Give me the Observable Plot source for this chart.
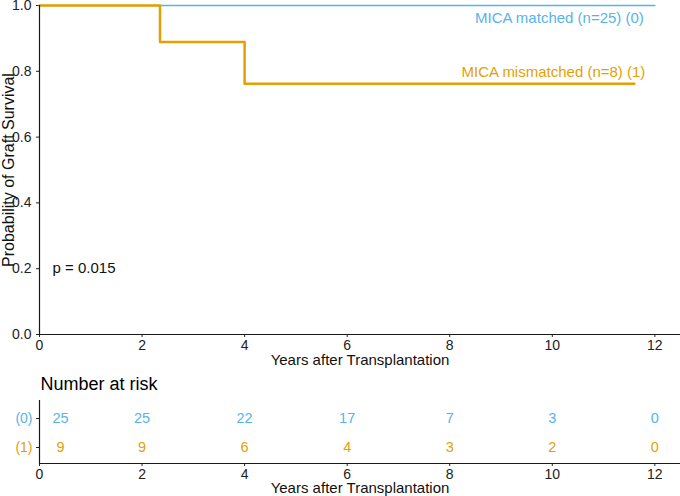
<!DOCTYPE html>
<html><head><meta charset="utf-8">
<script src="https://cdn.jsdelivr.net/npm/d3@7"></script>
<script src="https://cdn.jsdelivr.net/npm/@observablehq/plot@0.6"></script>
<style>
body{margin:0;background:#fff;}
#chart{position:relative;width:680px;height:496px;font-family:"Liberation Sans",Arial,sans-serif;}
#chart svg{display:block;}
</style></head><body><div id="chart"></div>
<script>
const ticksX = [0, 2, 4, 6, 8, 10, 12];
const ticksY = [0, 0.2, 0.4, 0.6, 0.8, 1.0];
const matchedTime = [0, 12];
const matchedSurv = [1, 1];
const mismatchedTime = [0, 2.35, 4.0, 11.6];
const mismatchedSurv = [1, 0.889, 0.762, 0.762];
const groupLabels = ["MICA matched (n=25) (0)", "MICA mismatched (n=8) (1)"];
const groupCodes = ["(0)", "(1)"];
const groupColors = ["#56B4E9", "#E69F00"];
const riskTimes = [0, 2, 4, 6, 8, 10, 12];
const riskMatched = [25, 25, 22, 17, 7, 3, 0];
const riskMismatched = [9, 9, 6, 4, 3, 2, 0];
const pValueText = "p = 0.015";
const xTitle = "Years after Transplantation";
const yTitle = "Probability of Graft Survival";
const riskTitle = "Number at risk";

const font = '"Liberation Sans", Arial, sans-serif';
const axisColor = "#1a1a1a";

const matched = matchedTime.map((t, i) => ({t, s: matchedSurv[i]}));
const mismatched = mismatchedTime.map((t, i) => ({t, s: mismatchedSurv[i]}));

const plot1 = Plot.plot({
  width: 680, height: 370,
  marginLeft: 39, marginRight: 0, marginTop: 5, marginBottom: 36,
  style: {fontFamily: font, fontSize: "14px", background: "white", color: axisColor},
  x: {domain: [0, 12.5]},
  y: {domain: [0, 1]},
  marks: [
    Plot.axisX({ticks: ticksX, tickSize: 3, tickPadding: 3, label: null, fontSize: 14, fill: "#222", stroke: "#222"}),
    Plot.axisY({ticks: ticksY, tickFormat: d3.format(".1f"), tickSize: 3, tickPadding: 5, label: null, fontSize: 14, fill: "#222", stroke: "#222"}),
    Plot.line(matched, {x: "t", y: "s", curve: "step-after", stroke: groupColors[0], strokeWidth: 1.4}),
    Plot.line(mismatched, {x: "t", y: "s", curve: "step-after", stroke: groupColors[1], strokeWidth: 2.5}),
    Plot.ruleY([0], {stroke: axisColor, strokeWidth: 1.2}),
    Plot.ruleX([0], {stroke: axisColor, strokeWidth: 1.2}),
    Plot.text([matched[matched.length - 1]], {x: "t", y: "s", text: () => groupLabels[0], textAnchor: "end", lineAnchor: "middle", dx: -11, dy: 13, fill: groupColors[0], fontSize: 15}),
    Plot.text([mismatched[mismatched.length - 1]], {x: "t", y: "s", text: () => groupLabels[1], textAnchor: "end", lineAnchor: "middle", dx: 11, dy: -12, fill: groupColors[1], fontSize: 15}),
    Plot.text([pValueText], {text: d => d, frameAnchor: "bottom-left", textAnchor: "start", lineAnchor: "middle", dx: 13, dy: -66, fontSize: 15, fill: "#111"}),
    Plot.text([xTitle], {text: d => d, frameAnchor: "bottom", textAnchor: "middle", lineAnchor: "middle", dy: 26, fontSize: 15, fill: "#111"}),
    Plot.text([yTitle], {text: d => d, frameAnchor: "left", textAnchor: "middle", lineAnchor: "middle", dx: -31, rotate: -90, fontSize: 16, fill: "#111"})
  ]
});

const riskRows = [];
riskTimes.forEach((t, i) => {
  riskRows.push({t, n: riskMatched[i], g: groupCodes[0], c: 0});
  riskRows.push({t, n: riskMismatched[i], g: groupCodes[1], c: 1});
});

const riskMarks = [];
[0, 1].forEach(c => {
  riskMarks.push(Plot.axisY([groupCodes[c]], {tickSize: 3, tickPadding: 4, label: null, fontSize: 14, fill: groupColors[c], stroke: "#222"}));
  riskMarks.push(Plot.text(riskRows.filter(d => d.c === c && d.t === riskTimes[0]), {x: "t", y: "g", text: "n", dx: 21, fill: groupColors[c], fontSize: 14.5}));
  riskMarks.push(Plot.text(riskRows.filter(d => d.c === c && d.t !== riskTimes[0]), {x: "t", y: "g", text: "n", fill: groupColors[c], fontSize: 14.5}));
});

const plot2 = Plot.plot({
  width: 680, height: 126,
  marginLeft: 39, marginRight: 0, marginTop: 30, marginBottom: 33,
  style: {fontFamily: font, fontSize: "14px", background: "white", color: axisColor},
  x: {domain: [0, 12.5]},
  y: {type: "point", domain: groupCodes, range: [48, 77], padding: 0},
  marks: [
    Plot.axisX({ticks: ticksX, tickSize: 3, tickPadding: 3, label: null, fontSize: 14, fill: "#222", stroke: "#222"}),
    ...riskMarks,
    Plot.frame({anchor: "bottom", stroke: axisColor, strokeWidth: 1.2}),
    Plot.ruleX([0], {stroke: axisColor, strokeWidth: 1.2}),
    Plot.text([riskTitle], {text: d => d, frameAnchor: "top-left", textAnchor: "start", lineAnchor: "middle", dx: 1, dy: -16, fontSize: 18, fill: "#000"}),
    Plot.text([xTitle], {text: d => d, frameAnchor: "bottom", textAnchor: "middle", lineAnchor: "middle", dy: 25, fontSize: 15, fill: "#111"})
  ]
});

const chart = document.getElementById("chart");
chart.appendChild(plot1);
chart.appendChild(plot2);
</script>
</body></html>
